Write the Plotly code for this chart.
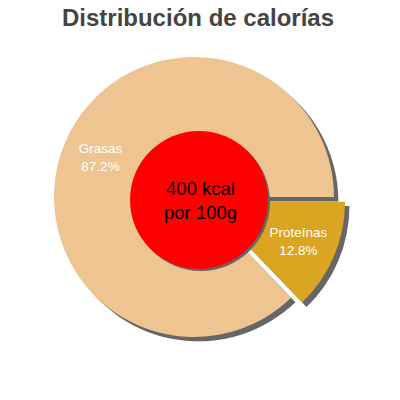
import plotly.graph_objects as go

labels = ["Proteínas", "Grasas"]
values = [12.8, 87.2]
colors = ["#DAA520", "#EEC591"]
pulls = [0.086, 0]
title_text = "Distribución de calorías"
center_text = "400 kcal<br>por 100g"

FONT = "Liberation Sans, Arial, sans-serif"
cx, cy = 0.485, 0.5075
half = 0.38
shx, shy = 0.011, -0.011
rcx, rcy, rh = 0.4975, 0.5, 0.1725

fig = go.Figure()
# pie shadow
fig.add_trace(go.Pie(
    labels=labels, values=values, sort=False, direction="clockwise", rotation=90,
    pull=pulls, marker=dict(colors=["#666666", "#666666"], line=dict(width=0)),
    textinfo="none", hoverinfo="skip", showlegend=False,
    domain=dict(x=[cx - half + shx, cx + half + shx], y=[cy - half + shy, cy + half + shy]),
))
# main pie
fig.add_trace(go.Pie(
    labels=labels, values=values, sort=False, direction="clockwise", rotation=90,
    pull=pulls, hole=0.45, marker=dict(colors=colors, line=dict(width=0)),
    texttemplate="%{label}<br>%{value:.1f}%", textposition="inside",
    insidetextorientation="horizontal",
    textfont=dict(color="white", size=13.5, family=FONT),
    showlegend=False,
    domain=dict(x=[cx - half, cx + half], y=[cy - half, cy + half]),
))
# red centre shadow
fig.add_trace(go.Pie(
    labels=["sombra"], values=[1], sort=False,
    marker=dict(colors=["#666666"], line=dict(width=0)),
    textinfo="none", hoverinfo="skip", showlegend=False,
    domain=dict(x=[rcx - rh + 0.005, rcx + rh + 0.005], y=[rcy - rh - 0.005, rcy + rh - 0.005]),
))
# red centre
fig.add_trace(go.Pie(
    labels=["centro"], values=[1], sort=False,
    marker=dict(colors=["#FF0000"], line=dict(width=0)),
    textinfo="none", hoverinfo="skip", showlegend=False,
    domain=dict(x=[rcx - rh, rcx + rh], y=[rcy - rh, rcy + rh]),
))

fig.update_layout(
    width=400, height=400,
    margin=dict(l=0, r=0, t=0, b=0),
    paper_bgcolor="white",
    title=dict(text="<b>" + title_text + "</b>", x=0.495, xanchor="center", y=0.955, yanchor="middle",
               yref="container",
               font=dict(size=24, color="#444444", family=FONT)),
    annotations=[dict(text=center_text, x=0.5, y=0.5, xref="paper", yref="paper",
                      showarrow=False, font=dict(size=18.5, color="black", family=FONT))],
)

fig.write_html("out.html", config={"displayModeBar": False},
               post_script="document.body.style.margin='0px';")
